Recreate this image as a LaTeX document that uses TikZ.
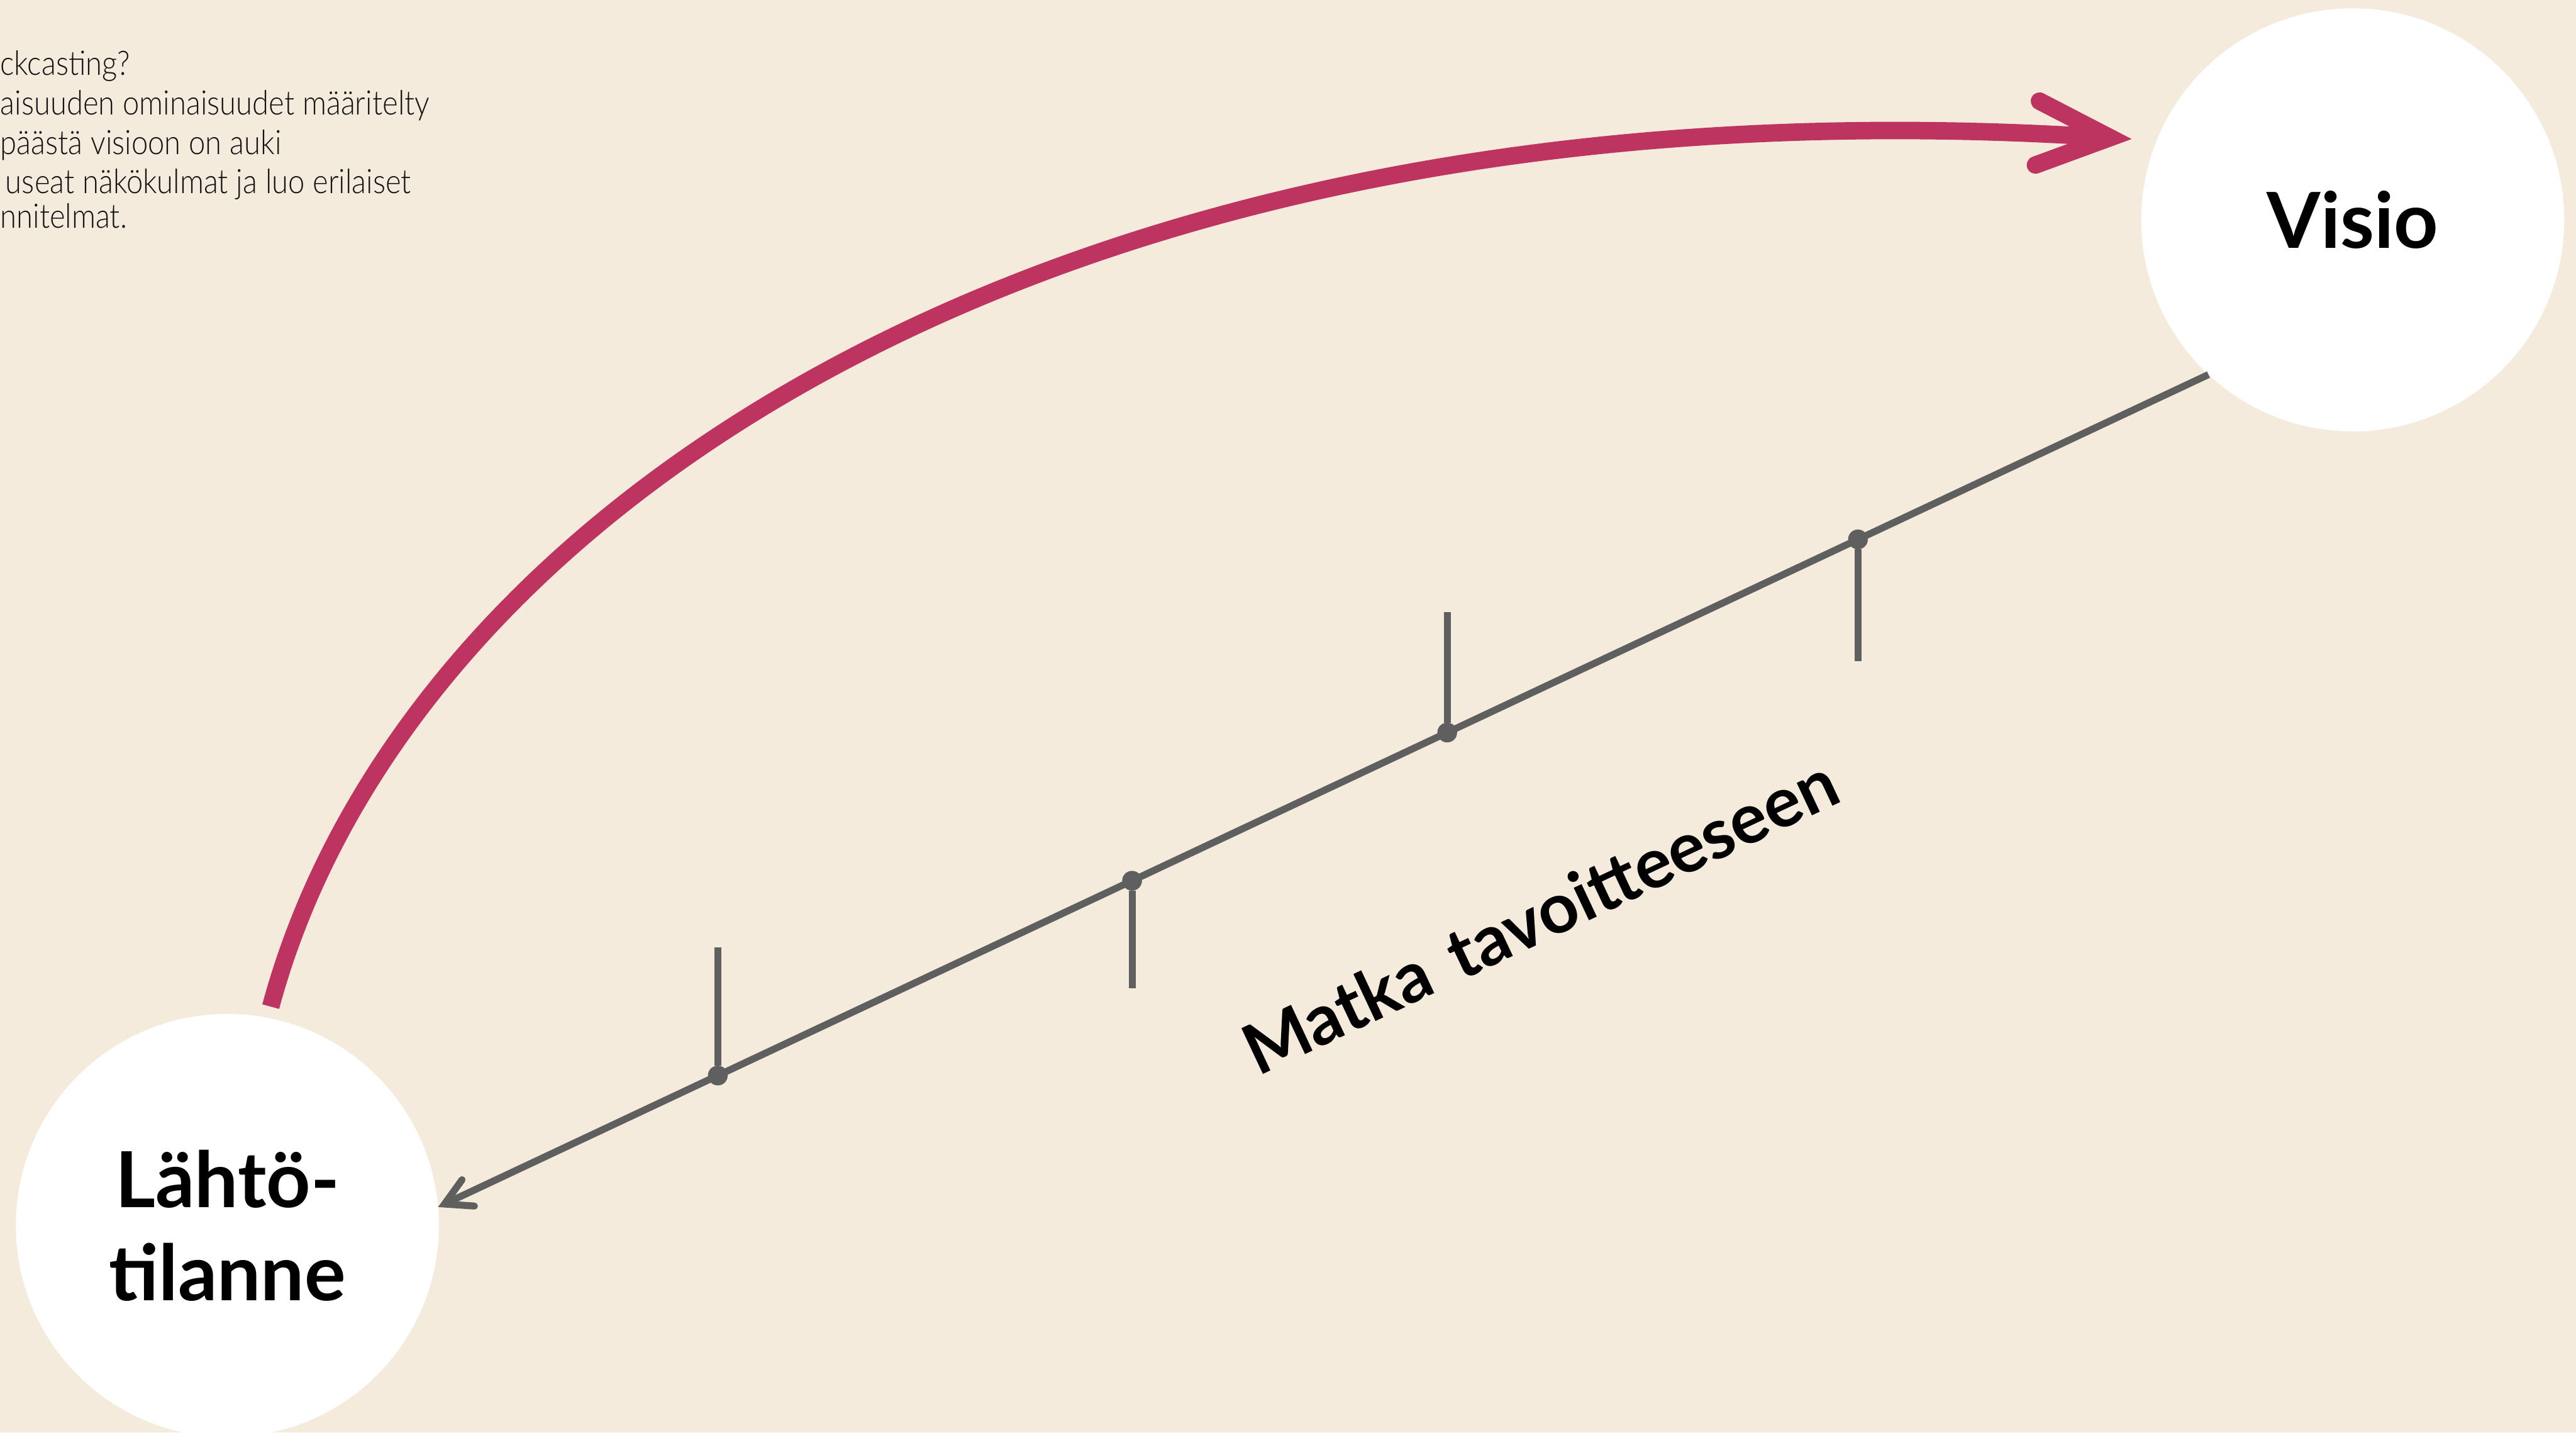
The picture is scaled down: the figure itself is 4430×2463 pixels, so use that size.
\documentclass[tikz,border=0pt]{standalone}
\usepackage{fontspec}
\setmainfont{Lato}
\newfontfamily\lightfont{Lato Light}[FakeStretch=0.88]
\usetikzlibrary{arrows.meta}
\definecolor{paper}{RGB}{244,235,221}
\definecolor{pathred}{RGB}{189,52,97}
\definecolor{trackgray}{RGB}{95,95,95}
\definecolor{notetext}{RGB}{20,20,20}

\begin{document}
\begin{tikzpicture}[x=0.01cm,y=-0.01cm,
    stage/.style={circle,fill=white,inner sep=0pt,outer sep=0pt,minimum size=7.27cm,align=center,
      font=\bfseries\fontsize{37.8}{45.5}\selectfont},
    track/.style={trackgray,line width=0.12cm},
    tickdot/.style={circle,fill=trackgray,inner sep=0pt,outer sep=0pt,minimum size=0.34cm},
    note/.style={anchor=base west,inner sep=0pt,text=notetext,font=\lightfont\fontsize{16.5}{19}\selectfont}]
    \fill[paper] (0,0) rectangle (4430,2463);
    \useasboundingbox (0,0) rectangle (4430,2463);
    % notes, cut at the left edge
    \node[note] (n1) at (0,129) {ckcasting?};
    \node[note] (n2) at (0,197) {aisuuden ominaisuudet määritelty};
    \node[note] (n3) at (0,265) {päästä visioon on auki};
    \node[note] (n4) at (9,333) {useat näkökulmat ja luo erilaiset};
    \node[note] (n5) at (0,392) {nnitelmat.};
    % start and goal
    \node[stage] (visio) at (4046,378) {Visio};
    \node[stage] (lahto) at (391,2107) {Lähtö-\\tilanne};
    % backcasting arc
    \draw[pathred,line width=0.3cm,shorten <=0.2cm,shorten >=0.43cm,
      -{Straight Barb[length=1.25cm,width=1.1cm,line cap=round,line join=miter]}]
      (lahto.79) .. controls (695,879) and (1816,122) .. (visio.158);
    % journey line with milestones
    \draw[track,-{Straight Barb[length=0.45cm,width=0.5cm,line cap=round,line join=miter]}]
      (visio.227) -- (lahto.5)
      node[tickdot,pos=0.198] (d1) {}
      node[tickdot,pos=0.430] (d2) {}
      node[tickdot,pos=0.608] (d3) {}
      node[tickdot,pos=0.842] (d4) {};
    \draw[track] (d1) -- ++(0,209);
    \draw[track] (d2) -- ++(0,-207);
    \draw[track] (d3) -- ++(0,185);
    \draw[track] (d4) -- ++(0,-220);
    \node[anchor=base,rotate=25.2,inner sep=0pt,font=\bfseries\fontsize{34.2}{40}\selectfont] (matka)
      at (2667,1614) {Matka\hspace{0.15cm} tavoitteeseen};
\end{tikzpicture}
\end{document}
